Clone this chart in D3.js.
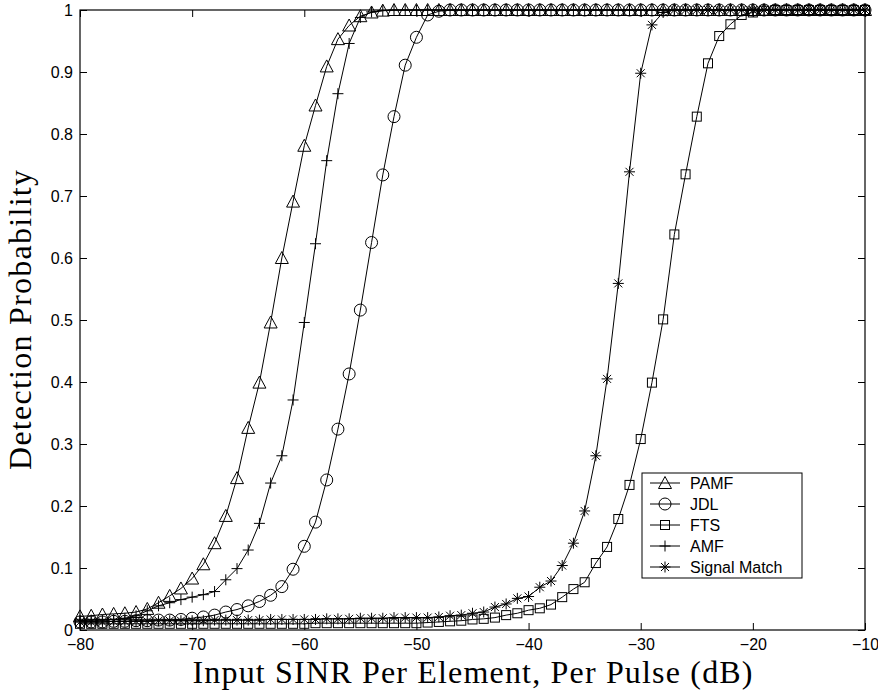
<html>
<head>
<meta charset="utf-8">
<script src="https://d3js.org/d3.v7.min.js"></script>
<style>
    body { margin: 0; background: #fff; }
    .axis text { font-family: "Liberation Sans", Arial, sans-serif; font-size: 16px; fill: #000; }
    .axis line { stroke: #000; }
    text.title { font-family: "Liberation Serif", "Times New Roman", serif; font-size: 32px; fill: #000; }
    text.legend { font-family: "Liberation Sans", Arial, sans-serif; font-size: 16px; fill: #000; }
</style>
</head>
<body>
<svg width=878 height=694 id="chart"></svg>

<script>
// input SINR grid (dB)
var snr = [-80,-79,-78,-77,-76,-75,-74,-73,-72,-71,-70,-69,-68,-67,-66,-65,-64,-63,-62,-61,
           -60,-59,-58,-57,-56,-55,-54,-53,-52,-51,-50,-49,-48,-47,-46,-45,-44,-43,-42,-41,
           -40,-39,-38,-37,-36,-35,-34,-33,-32,-31,-30,-29,-28,-27,-26,-25,-24,-23,-22,-21,
           -20,-19,-18,-17,-16,-15,-14,-13,-12,-11,-10];

// detection probability
var pamf = [0.022,0.023,0.025,0.026,0.027,0.029,0.034,0.044,0.055,0.067,
            0.083,0.106,0.140,0.184,0.245,0.326,0.399,0.496,0.600,0.691,
            0.781,0.846,0.909,0.953,0.975,0.990,0.996,0.999,1,1,
            1,1,1,1,1,1,1,1,1,1, 1,1,1,1,1,1,1,1,1,1, 1,1,1,1,1,1,1,1,1,1, 1,1,1,1,1,1,1,1,1,1, 1];

var jdl = [0.013,0.013,0.013,0.014,0.014,0.015,0.015,0.016,0.016,0.017,
           0.019,0.021,0.024,0.029,0.033,0.039,0.046,0.056,0.070,0.098,
           0.135,0.174,0.242,0.324,0.413,0.516,0.625,0.734,0.828,0.911,
           0.956,0.992,0.998,1,1,1,1,1,1,1, 1,1,1,1,1,1,1,1,1,1, 1,1,1,1,1,1,1,1,1,1, 1,1,1,1,1,1,1,1,1,1, 1];

var fts = [0.010,0.010,0.010,0.010,0.010,0.010,0.010,0.010,0.010,0.010,
           0.010,0.010,0.010,0.010,0.010,0.010,0.010,0.010,0.010,0.010,
           0.010,0.011,0.011,0.011,0.011,0.011,0.011,0.011,0.011,0.011,
           0.011,0.012,0.013,0.014,0.015,0.017,0.018,0.020,0.024,0.027,
           0.032,0.035,0.041,0.053,0.066,0.077,0.108,0.134,0.179,0.234,
           0.308,0.399,0.501,0.638,0.735,0.828,0.914,0.958,0.977,0.992,
           0.996,0.999,1,1,1,1,1,1,1,1, 1];

var amf = [0.015,0.016,0.016,0.017,0.019,0.023,0.031,0.039,0.044,0.049,
           0.053,0.057,0.062,0.081,0.099,0.129,0.172,0.237,0.281,0.371,
           0.496,0.623,0.757,0.865,0.946,0.988,0.997,0.999,1,1,
           1,1,1,1,1,1,1,1,1,1, 1,1,1,1,1,1,1,1,1,1, 1,1,1,1,1,1,1,1,1,1, 1,1,1,1,1,1,1,1,1,1, 1];

var match = [0.013,0.013,0.013,0.014,0.014,0.014,0.014,0.015,0.015,0.015,
             0.015,0.015,0.016,0.016,0.016,0.016,0.016,0.017,0.017,0.017,
             0.017,0.017,0.018,0.018,0.018,0.019,0.019,0.019,0.020,0.020,
             0.020,0.020,0.021,0.023,0.024,0.027,0.029,0.037,0.042,0.051,
             0.054,0.069,0.079,0.104,0.140,0.192,0.281,0.405,0.559,0.739,
             0.898,0.976,0.996,1,1,1,1,1,1,1, 1,1,1,1,1,1,1,1,1,1, 1];

var names = ["PAMF", "JDL", "FTS", "AMF", "Signal Match"];
var markers = ["triangle", "circle", "square", "plus", "star"];
var xTicks = [-80,-70,-60,-50,-40,-30,-20,-10];
var yTicks = [0,0.1,0.2,0.3,0.4,0.5,0.6,0.7,0.8,0.9,1];

var series = [pamf, jdl, fts, amf, match];

var mLeft = 80, mRight = 865, mTop = 10, mBottom = 630;
var tick = 7;

var x = d3.scaleLinear().domain([-80,-10]).range([mLeft,mRight]);
var y = d3.scaleLinear().domain([0,1]).range([mBottom,mTop]);

var svg = d3.select("#chart");

svg.append("rect")
  .attr("x", 0).attr("y", 0).attr("width", 878).attr("height", 694)
  .attr("fill", "#fff");

// marker shapes, drawn hollow like matlab
function drawMarker(g, type) {
  if (type == "triangle") {
    g.append("path").attr("d", "M0,-6.5L6.5,5.5L-6.5,5.5Z");
  } else if (type == "circle") {
    g.append("circle").attr("r", 6);
  } else if (type == "square") {
    g.append("rect").attr("x", -4.5).attr("y", -4.5).attr("width", 9).attr("height", 9);
  } else if (type == "plus") {
    g.append("path").attr("d", "M-5.5,0H5.5M0,-5.5V5.5");
  } else if (type == "star") {
    g.append("path").attr("d", "M-5.5,0H5.5M0,-5.5V5.5M-4,-4L4,4M-4,4L4,-4");
  }
}

var line = d3.line()
  .x(function(d) { return x(d[0]); })
  .y(function(d) { return y(d[1]); });

var plot = svg.append("g");

series.forEach(function(vals, k) {
  var pts = snr.map(function(s, i) { return [s, vals[i]]; });
  plot.append("path")
    .attr("d", line(pts))
    .attr("fill", "none")
    .attr("stroke", "#000")
    .attr("stroke-width", 1);
  pts.forEach(function(p) {
    var m = plot.append("g")
      .attr("transform", "translate(" + x(p[0]) + "," + y(p[1]) + ")")
      .attr("fill", "none")
      .attr("stroke", "#000")
      .attr("stroke-width", 1);
    drawMarker(m, markers[k]);
  });
});

// axes with inward ticks on all four sides
svg.append("g").attr("class", "axis")
  .attr("transform", "translate(0," + mBottom + ")")
  .call(d3.axisBottom(x).tickValues(xTicks).tickSizeInner(-tick).tickSizeOuter(0).tickPadding(9))
  .call(function(g) { g.select(".domain").remove(); });

svg.append("g").attr("class", "axis")
  .attr("transform", "translate(0," + mTop + ")")
  .call(d3.axisTop(x).tickValues(xTicks).tickSizeInner(-tick).tickSizeOuter(0).tickFormat(""))
  .call(function(g) { g.select(".domain").remove(); });

svg.append("g").attr("class", "axis")
  .attr("transform", "translate(" + mLeft + ",0)")
  .call(d3.axisLeft(y).tickValues(yTicks).tickSizeInner(-tick).tickSizeOuter(0).tickPadding(7).tickFormat(d3.format("~g")))
  .call(function(g) { g.select(".domain").remove(); });

svg.append("g").attr("class", "axis")
  .attr("transform", "translate(" + mRight + ",0)")
  .call(d3.axisRight(y).tickValues(yTicks).tickSizeInner(-tick).tickSizeOuter(0).tickFormat(""))
  .call(function(g) { g.select(".domain").remove(); });

svg.append("rect")
  .attr("x", mLeft).attr("y", mTop)
  .attr("width", mRight - mLeft).attr("height", mBottom - mTop)
  .attr("fill", "none").attr("stroke", "#000").attr("stroke-width", 1.2);

// axis titles
svg.append("text").attr("class", "title")
  .attr("x", (mLeft + mRight) / 2).attr("y", 683)
  .attr("text-anchor", "middle")
  .attr("textLength", 560)
  .text("Input SINR Per Element, Per Pulse (dB)");

svg.append("text").attr("class", "title")
  .attr("transform", "translate(31," + ((mTop + mBottom) / 2) + ") rotate(-90)")
  .attr("text-anchor", "middle")
  .attr("textLength", 300)
  .text("Detection Probability");

// legend
var lx = 642, ly = 473, lw = 160, lh = 105, row = 21;
var legend = svg.append("g");
legend.append("rect")
  .attr("x", lx).attr("y", ly).attr("width", lw).attr("height", lh)
  .attr("fill", "#fff").attr("stroke", "#000").attr("stroke-width", 1);

names.forEach(function(n, k) {
  var cy = ly + 10 + row * k;
  legend.append("line")
    .attr("x1", lx + 8).attr("x2", lx + 38)
    .attr("y1", cy).attr("y2", cy)
    .attr("stroke", "#000");
  var m = legend.append("g")
    .attr("transform", "translate(" + (lx + 23) + "," + cy + ")")
    .attr("fill", "none").attr("stroke", "#000");
  drawMarker(m, markers[k]);
  legend.append("text").attr("class", "legend")
    .attr("x", lx + 48).attr("y", cy)
    .attr("dy", "0.35em")
    .text(n);
});
</script>
</body>
</html>
